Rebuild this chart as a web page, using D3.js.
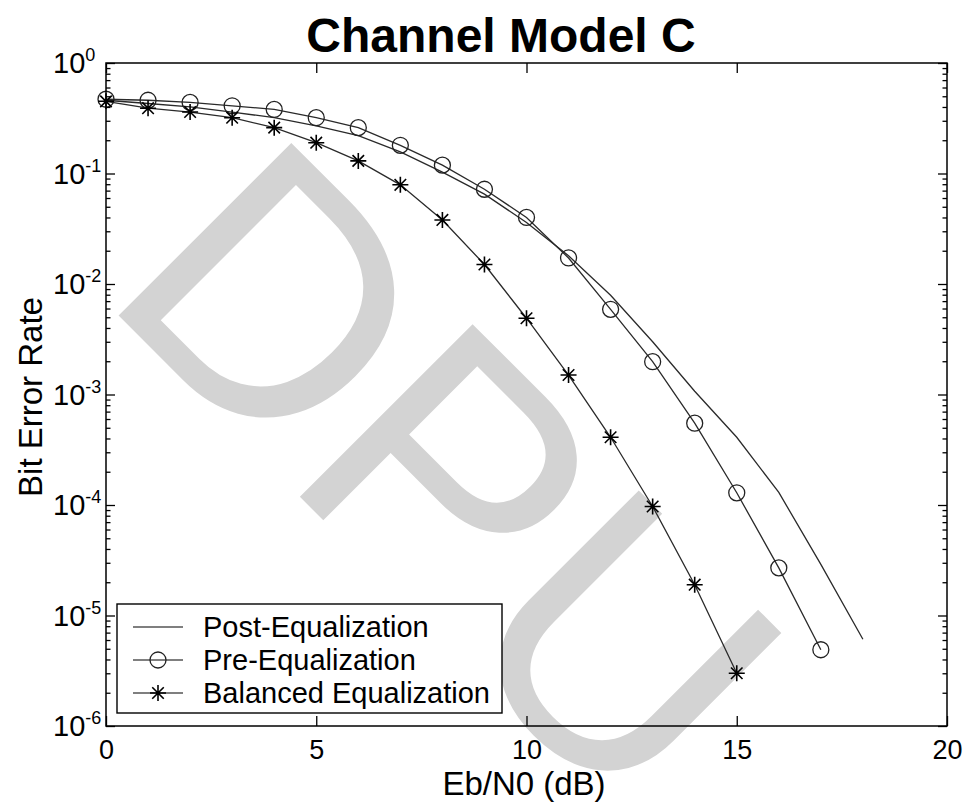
<!DOCTYPE html>
<html>
<head>
<meta charset="utf-8">
<script src="https://cdn.jsdelivr.net/npm/d3@7"></script>
<style>
  body { margin: 0; background: #fff; }
  svg { display: block; font-family: "Liberation Sans", Arial, sans-serif; }
</style>
</head>
<body>
<div id="chart"></div>
<script>
// --- data ---
const titleText = 'Channel Model C';
const xLabel = 'Eb/N0 (dB)';
const yLabel = 'Bit Error Rate';
const watermark = 'DPU';
const xTicks = [0, 5, 10, 15, 20];
const yExponents = [0, -1, -2, -3, -4, -5, -6];
const seriesNames = ['Post-Equalization', 'Pre-Equalization', 'Balanced Equalization'];

const postX = [0, 1, 2, 3, 4, 5, 6, 7, 8, 9, 10, 11, 12, 13, 14, 15, 16, 17, 18];
const postBer = [0.46, 0.43, 0.40, 0.36, 0.32, 0.27, 0.22, 0.157, 0.103, 0.065, 0.036, 0.018,
                 0.0079, 0.0030, 0.00107, 0.00041, 0.00013, 0.000029, 0.0000061];

const preX = [0, 1, 2, 3, 4, 5, 6, 7, 8, 9, 10, 11, 12, 13, 14, 15, 16, 17];
const preBer = [0.47, 0.46, 0.44, 0.41, 0.38, 0.32, 0.26, 0.18, 0.119, 0.072, 0.040, 0.0172,
                0.0059, 0.00198, 0.00055, 0.000129, 0.000027, 0.0000049];

const balX = [0, 1, 2, 3, 4, 5, 6, 7, 8, 9, 10, 11, 12, 13, 14, 15];
const balBer = [0.45, 0.39, 0.36, 0.32, 0.26, 0.19, 0.13, 0.079, 0.038, 0.015, 0.0049, 0.0015,
                0.00041, 0.000097, 0.000019, 0.0000030];

const width = 968, height = 803;
const margin = { top: 63, right: 21, bottom: 77, left: 106 };
const innerW = width - margin.left - margin.right;
const innerH = height - margin.top - margin.bottom;

const svg = d3.select('#chart').append('svg')
    .attr('width', width)
    .attr('height', height);

// watermark sits behind everything
svg.append('text')
    .attr('transform', 'translate(98,295) rotate(45)')
    .attr('font-size', 355)
    .attr('fill', '#d3d3d3')
    .text(watermark);

const g = svg.append('g')
    .attr('transform', `translate(${margin.left},${margin.top})`);

const x = d3.scaleLinear().domain([0, 20]).range([0, innerW]);
const y = d3.scaleLog().domain([1e-6, 1]).range([innerH, 0]);

// --- lines & markers ---
const line = d3.line().x(d => x(d[0])).y(d => y(d[1]));
const zip = (a, b) => a.map((v, i) => [v, b[i]]);

const postPts = zip(postX, postBer);
const prePts = zip(preX, preBer);
const balPts = zip(balX, balBer);

const lineColor = '#2a2a2a';
[postPts, prePts, balPts].forEach(pts => {
    g.append('path')
        .datum(pts)
        .attr('d', line)
        .attr('fill', 'none')
        .attr('stroke', lineColor)
        .attr('stroke-width', 1.3);
});

function starPath(r) {
    const p = d3.path();
    const d = r * 0.72;
    p.moveTo(-r, 0); p.lineTo(r, 0);
    p.moveTo(0, -r); p.lineTo(0, r);
    p.moveTo(-d, -d); p.lineTo(d, d);
    p.moveTo(-d, d); p.lineTo(d, -d);
    return p.toString();
}

g.selectAll('circle.pre')
    .data(prePts)
    .join('circle')
    .attr('class', 'pre')
    .attr('cx', d => x(d[0]))
    .attr('cy', d => y(d[1]))
    .attr('r', 8)
    .attr('fill', 'none')
    .attr('stroke', '#222')
    .attr('stroke-width', 1.3);

g.selectAll('path.bal')
    .data(balPts)
    .join('path')
    .attr('class', 'bal')
    .attr('transform', d => `translate(${x(d[0])},${y(d[1])})`)
    .attr('d', starPath(8))
    .attr('stroke', '#000')
    .attr('stroke-width', 1.6);

// --- axes (MATLAB style: ticks inside, on all four sides) ---
const yAll = y.ticks();
const isMajor = v => Math.abs(Math.log10(v) - Math.round(Math.log10(v))) < 1e-9;
const yMajor = yAll.filter(isMajor);
const yMinor = yAll.filter(v => !isMajor(v));

const styleAxis = sel => {
    sel.select('.domain').remove();
    sel.selectAll('line').attr('stroke', '#000').attr('stroke-width', 1.3);
};

g.append('g')
    .attr('transform', `translate(0,${innerH})`)
    .call(d3.axisBottom(x).tickValues(xTicks).tickSize(-10).tickPadding(14))
    .call(styleAxis)
    .call(a => a.selectAll('text')
        .attr('font-size', 27)
        .attr('fill', '#000')
        .attr('font-family', '"Liberation Sans", Arial, sans-serif'));

g.append('g')
    .call(d3.axisTop(x).tickValues(xTicks).tickSize(-10).tickFormat(''))
    .call(styleAxis);

[[d3.axisLeft, 0], [d3.axisRight, innerW]].forEach(([axisFn, tx]) => {
    g.append('g')
        .attr('transform', `translate(${tx},0)`)
        .call(axisFn(y).tickValues(yMajor).tickSize(-9).tickFormat(''))
        .call(styleAxis);
    g.append('g')
        .attr('transform', `translate(${tx},0)`)
        .call(axisFn(y).tickValues(yMinor).tickSize(-4.5).tickFormat(''))
        .call(styleAxis);
});

// y tick labels 10^n
const yLab = g.selectAll('text.ylab')
    .data(yExponents)
    .join('text')
    .attr('class', 'ylab')
    .attr('x', 53 - margin.left)
    .attr('y', d => y(Math.pow(10, d)) + 10)
    .attr('fill', '#000');
yLab.append('tspan').attr('font-size', 29).text('10');
yLab.append('tspan').attr('font-size', 18).attr('dy', -12).text(d => d === 0 ? '0' : '-' + Math.abs(d));

// frame
g.append('rect')
    .attr('width', innerW)
    .attr('height', innerH)
    .attr('fill', 'none')
    .attr('stroke', '#000')
    .attr('stroke-width', 1.5);

// --- titles ---
svg.append('text')
    .attr('x', 501).attr('y', 52)
    .attr('text-anchor', 'middle')
    .attr('font-size', 48)
    .attr('font-weight', 'bold')
    .attr('fill', '#000')
    .text(titleText);

svg.append('text')
    .attr('x', 524).attr('y', 795)
    .attr('text-anchor', 'middle')
    .attr('font-size', 33)
    .attr('fill', '#000')
    .text(xLabel);

svg.append('text')
    .attr('transform', 'translate(42,397) rotate(-90)')
    .attr('text-anchor', 'middle')
    .attr('font-size', 33)
    .attr('fill', '#000')
    .text(yLabel);

// --- legend ---
const leg = svg.append('g').attr('transform', 'translate(117,604)');
leg.append('rect')
    .attr('width', 385).attr('height', 109)
    .attr('fill', '#fff')
    .attr('stroke', '#000')
    .attr('stroke-width', 1.4);

const rows = leg.selectAll('g.row')
    .data(seriesNames)
    .join('g')
    .attr('class', 'row')
    .attr('transform', (d, i) => `translate(0,${23 + i * 33})`);

rows.append('line')
    .attr('x1', 16).attr('x2', 66)
    .attr('stroke', '#555')
    .attr('stroke-width', 1.3);

rows.filter((d, i) => i === 1).append('circle')
    .attr('cx', 41).attr('r', 8)
    .attr('fill', 'none').attr('stroke', '#222').attr('stroke-width', 1.3);

rows.filter((d, i) => i === 2).append('path')
    .attr('transform', 'translate(41,0)')
    .attr('d', starPath(8))
    .attr('stroke', '#000').attr('stroke-width', 1.6);

rows.append('text')
    .attr('x', 86).attr('y', 10)
    .attr('font-size', 29)
    .attr('fill', '#000')
    .text(d => d);
</script>
</body>
</html>
